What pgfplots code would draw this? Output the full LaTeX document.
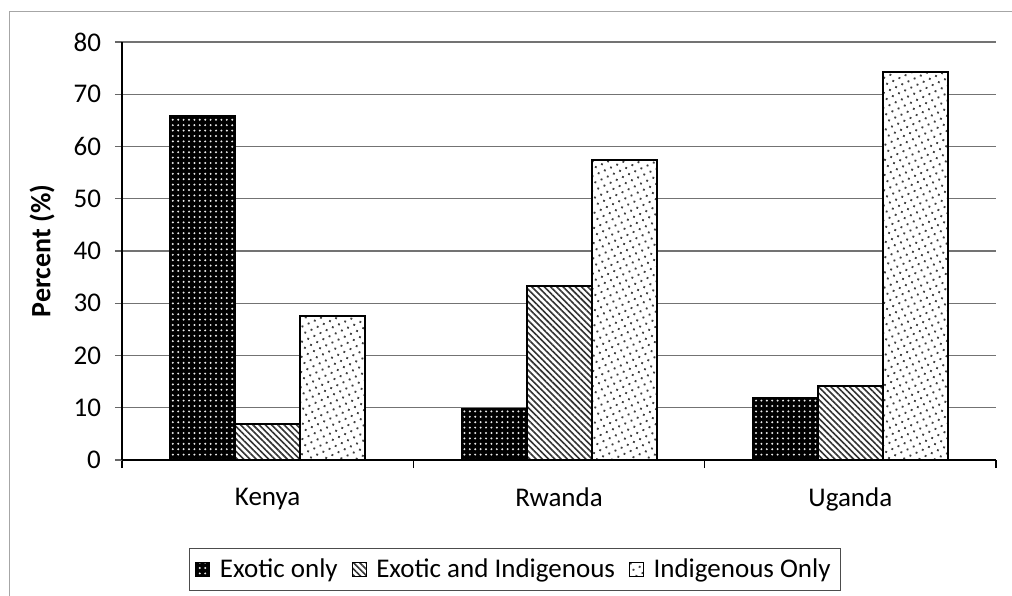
\documentclass[border=0pt]{standalone}
\usepackage{pgfplots}
\pgfplotsset{compat=1.18}
\usepackage{fontspec}
\setmainfont{Carlito}
\usetikzlibrary{patterns.meta}

% Percent of households by breed type kept
\pgfplotstableread{
x  exotic  mixed  indig
0  65.9    6.9    27.5
1  9.7     33.3   57.4
2  11.9    14.2   74.2
}\breeds

\begin{document}
\begin{tikzpicture}
\useasboundingbox (0pt,0pt) rectangle (506pt,-297.5pt);
\draw[gray!70, line width=0.5pt] (4.5pt,-5.5pt) rectangle (515pt,-310pt);
\begin{axis}[
  at={(61pt,-230pt)}, anchor=south west,
  width=437pt, height=209pt, scale only axis,
  ybar=0pt, bar width=32.5pt,
  xmin=-0.5, xmax=2.5,
  ymin=0, ymax=80, ytick={0,10,...,80},
  xtick={0,1,2}, xticklabels={Kenya,Rwanda,Uganda},
  minor xtick={-0.5,0.5,1.5,2.5},
  major x tick style={draw=none},
  minor x tick style={black, line width=0.6pt},
  minor tick length=4pt,
  major tick length=3.5pt,
  y tick style={black!60, line width=0.6pt},
  tick align=outside, tick pos=left,
  axis line style={black, line width=1pt},
  axis x line*=bottom, axis y line*=left,
  ymajorgrids, grid style={black!55, line width=0.6pt},
  /pgf/number format/assume math mode=true,
  tick label style={font=\fontsize{13.5}{15}\selectfont},
  yticklabel style={xshift=-3.5pt},
  xticklabel style={yshift=-7pt},
  ylabel={\bfseries Percent (\%)},
  ylabel style={font=\fontsize{14}{16}\selectfont, at={(axis description cs:-0.0915,0.5)}, anchor=center},
  legend style={at={(axis description cs:0.4497,-0.262)}, anchor=center,
    draw=black!70, line width=0.5pt, font=\fontsize{13.5}{15}\selectfont,
    legend columns=3, inner xsep=3pt, inner ysep=3pt,
    /tikz/every even column/.append style={column sep=5pt}},
  legend image code/.code={\draw[#1, line width=0.5pt] (0pt,-3.5pt) rectangle (7pt,3.5pt); \path (9.5pt,0pt);},
  every axis plot/.append style={draw=black, line width=1pt},
]
\addplot[fill=black, postaction={pattern={Dots[distance=2.7pt,radius=0.55pt]}, pattern color=white!85!gray}] table[x=x,y=exotic]{\breeds};
\addplot[fill=white, postaction={pattern={Lines[angle=-45,distance=2.2pt,line width=0.8pt]}, pattern color=black!80}] table[x=x,y=mixed]{\breeds};
\addplot[fill=white, postaction={pattern={Dots[distance=3.4pt,radius=0.65pt,angle=25]}, pattern color=black!75}] table[x=x,y=indig]{\breeds};
\legend{Exotic only, Exotic and Indigenous, Indigenous Only}
\end{axis}
\end{tikzpicture}
\end{document}
